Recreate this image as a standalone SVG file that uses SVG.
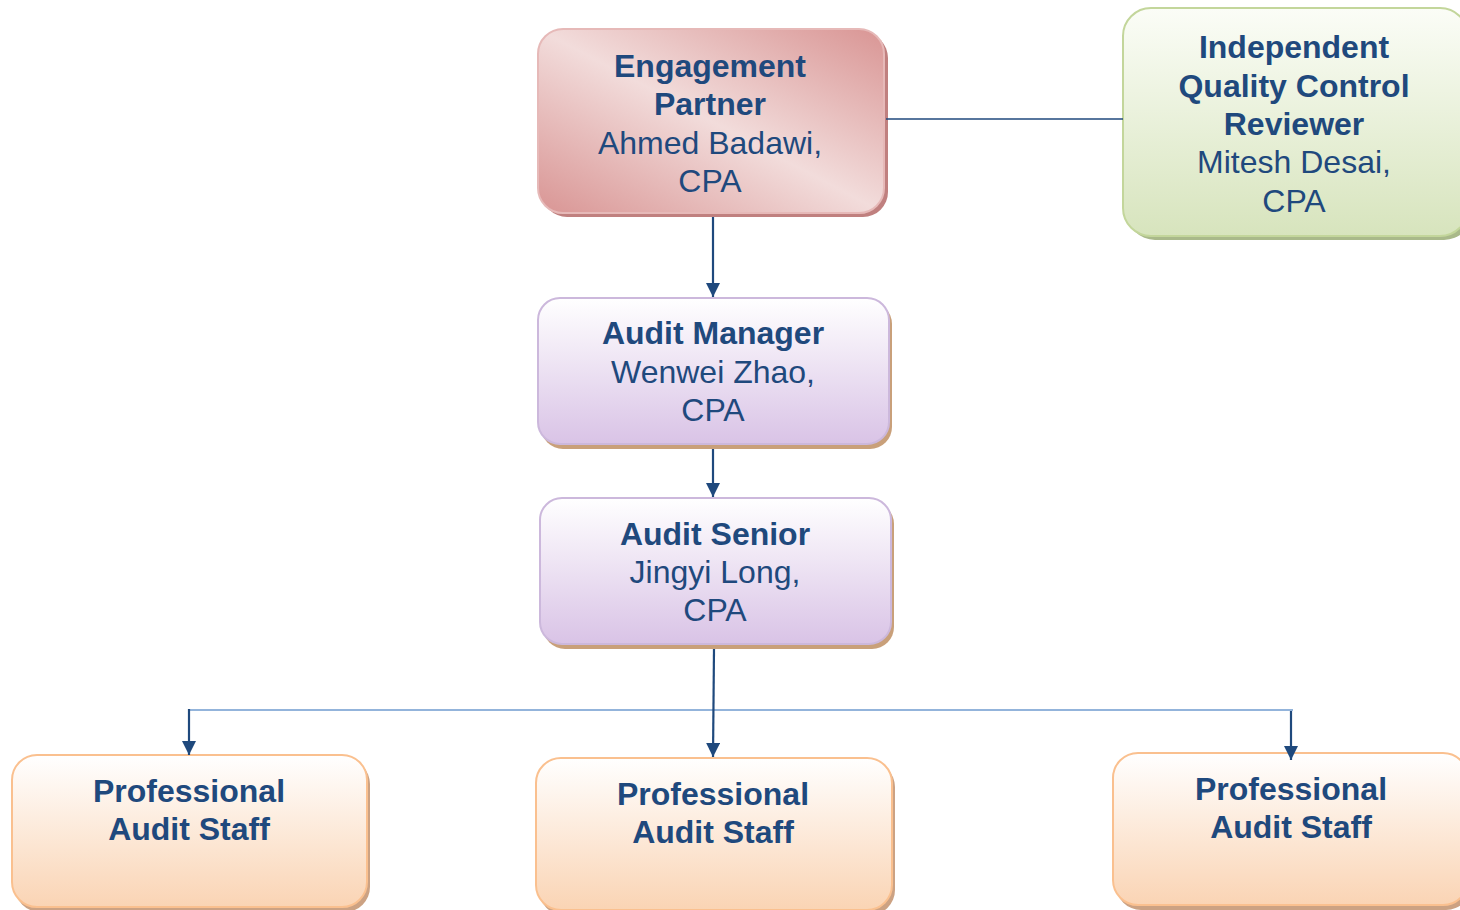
<svg xmlns="http://www.w3.org/2000/svg" width="1460" height="910" viewBox="0 0 1460 910">
<defs>
<linearGradient id="gRed" x1="0" y1="1" x2="1" y2="0">
<stop offset="0" stop-color="#d99594"/>
<stop offset="0.5" stop-color="#f2dcdb"/>
<stop offset="1" stop-color="#d99594"/>
</linearGradient>
<linearGradient id="gGreen" x1="0" y1="0" x2="0" y2="1">
<stop offset="0" stop-color="#fbfdf7"/>
<stop offset="1" stop-color="#d7e4bd"/>
</linearGradient>
<linearGradient id="gPurple" x1="0" y1="0" x2="0" y2="1">
<stop offset="0" stop-color="#ffffff"/>
<stop offset="1" stop-color="#d9c3e6"/>
</linearGradient>
<linearGradient id="gOrange" x1="0" y1="0" x2="0" y2="1">
<stop offset="0" stop-color="#ffffff"/>
<stop offset="1" stop-color="#fad4b4"/>
</linearGradient>
<marker id="arr" viewBox="0 0 10 10" refX="10" refY="5" markerWidth="6.5" markerHeight="6.5" markerUnits="strokeWidth" orient="auto">
<path d="M0,0 L10,5 L0,10 Z" fill="#1f497d"/>
</marker>
</defs>
<style>
text{font-family:"Liberation Sans",Arial,sans-serif;font-size:32px;fill:#1f497d;text-anchor:middle}
.b{font-weight:bold}
.red{fill:url(#gRed);stroke:#e6b9b8;stroke-width:2}
.redsh{fill:#c0807f}
.green{fill:url(#gGreen);stroke:#c3d69b;stroke-width:2}
.greensh{fill:#a9b98a}
.purple{fill:url(#gPurple);stroke:#ccb8dc;stroke-width:2}
.purplesh{fill:#c9a07a}
.orange{fill:url(#gOrange);stroke:#fac08f;stroke-width:2}
.orangesh{fill:#cca283}
.con{fill:none;stroke:#1f497d;stroke-width:2.2}
.bus{fill:none;stroke:#6f9bcf;stroke-width:1.5}
</style>
<rect width="1460" height="910" fill="#ffffff"/>
<g id="engagement-partner">
<rect class="redsh" x="542" y="33" width="346" height="184" rx="25"/>
<rect class="red" x="538" y="29" width="346" height="184" rx="25"/>
<text class="b" x="710" y="77">Engagement</text>
<text class="b" x="710" y="115">Partner</text>
<text x="710" y="154">Ahmed Badawi,</text>
<text x="710" y="192">CPA</text>
</g>
<g id="qc-reviewer">
<rect class="greensh" x="1127" y="12" width="345" height="228" rx="28"/>
<rect class="green" x="1123" y="8" width="345" height="228" rx="28"/>
<text class="b" x="1294" y="58">Independent</text>
<text class="b" x="1294" y="97">Quality Control</text>
<text class="b" x="1294" y="135">Reviewer</text>
<text x="1294" y="173">Mitesh Desai,</text>
<text x="1294" y="212">CPA</text>
</g>
<g id="audit-manager">
<rect class="purplesh" x="541" y="302" width="351" height="147" rx="22"/>
<rect class="purple" x="538" y="298" width="351" height="146" rx="22"/>
<text class="b" x="713" y="344">Audit Manager</text>
<text x="713" y="383">Wenwei Zhao,</text>
<text x="713" y="421">CPA</text>
</g>
<g id="audit-senior">
<rect class="purplesh" x="543" y="502" width="351" height="147" rx="22"/>
<rect class="purple" x="540" y="498" width="351" height="146" rx="22"/>
<text class="b" x="715" y="545">Audit Senior</text>
<text x="715" y="583">Jingyi Long,</text>
<text x="715" y="621">CPA</text>
</g>
<g id="staff-left">
<rect class="orangesh" x="15" y="759" width="355" height="153" rx="25"/>
<rect class="orange" x="12" y="755" width="355" height="152" rx="25"/>
<text class="b" x="189" y="802">Professional</text>
<text class="b" x="189" y="840">Audit Staff</text>
</g>
<g id="staff-middle">
<rect class="orangesh" x="539" y="762" width="356" height="153" rx="25"/>
<rect class="orange" x="536" y="758" width="356" height="152" rx="25"/>
<text class="b" x="713" y="805">Professional</text>
<text class="b" x="713" y="843">Audit Staff</text>
</g>
<g id="staff-right">
<rect class="orangesh" x="1116" y="757" width="355" height="153" rx="25"/>
<rect class="orange" x="1113" y="753" width="355" height="152" rx="25"/>
<text class="b" x="1291" y="800">Professional</text>
<text class="b" x="1291" y="838">Audit Staff</text>
</g>
<g id="connectors">
<line class="con" x1="886" y1="119" x2="1123" y2="119" style="stroke-width:1.5"/>
<line class="con" x1="713" y1="217" x2="713" y2="297" marker-end="url(#arr)"/>
<line class="con" x1="713" y1="449" x2="713" y2="497" marker-end="url(#arr)"/>
<line class="bus" x1="189" y1="710" x2="1293" y2="710"/>
<line class="con" x1="714" y1="649" x2="713" y2="757" marker-end="url(#arr)"/>
<line class="con" x1="189" y1="709" x2="189" y2="755" marker-end="url(#arr)"/>
<line class="con" x1="1291" y1="711" x2="1291" y2="760" marker-end="url(#arr)"/>
</g>
</svg>
